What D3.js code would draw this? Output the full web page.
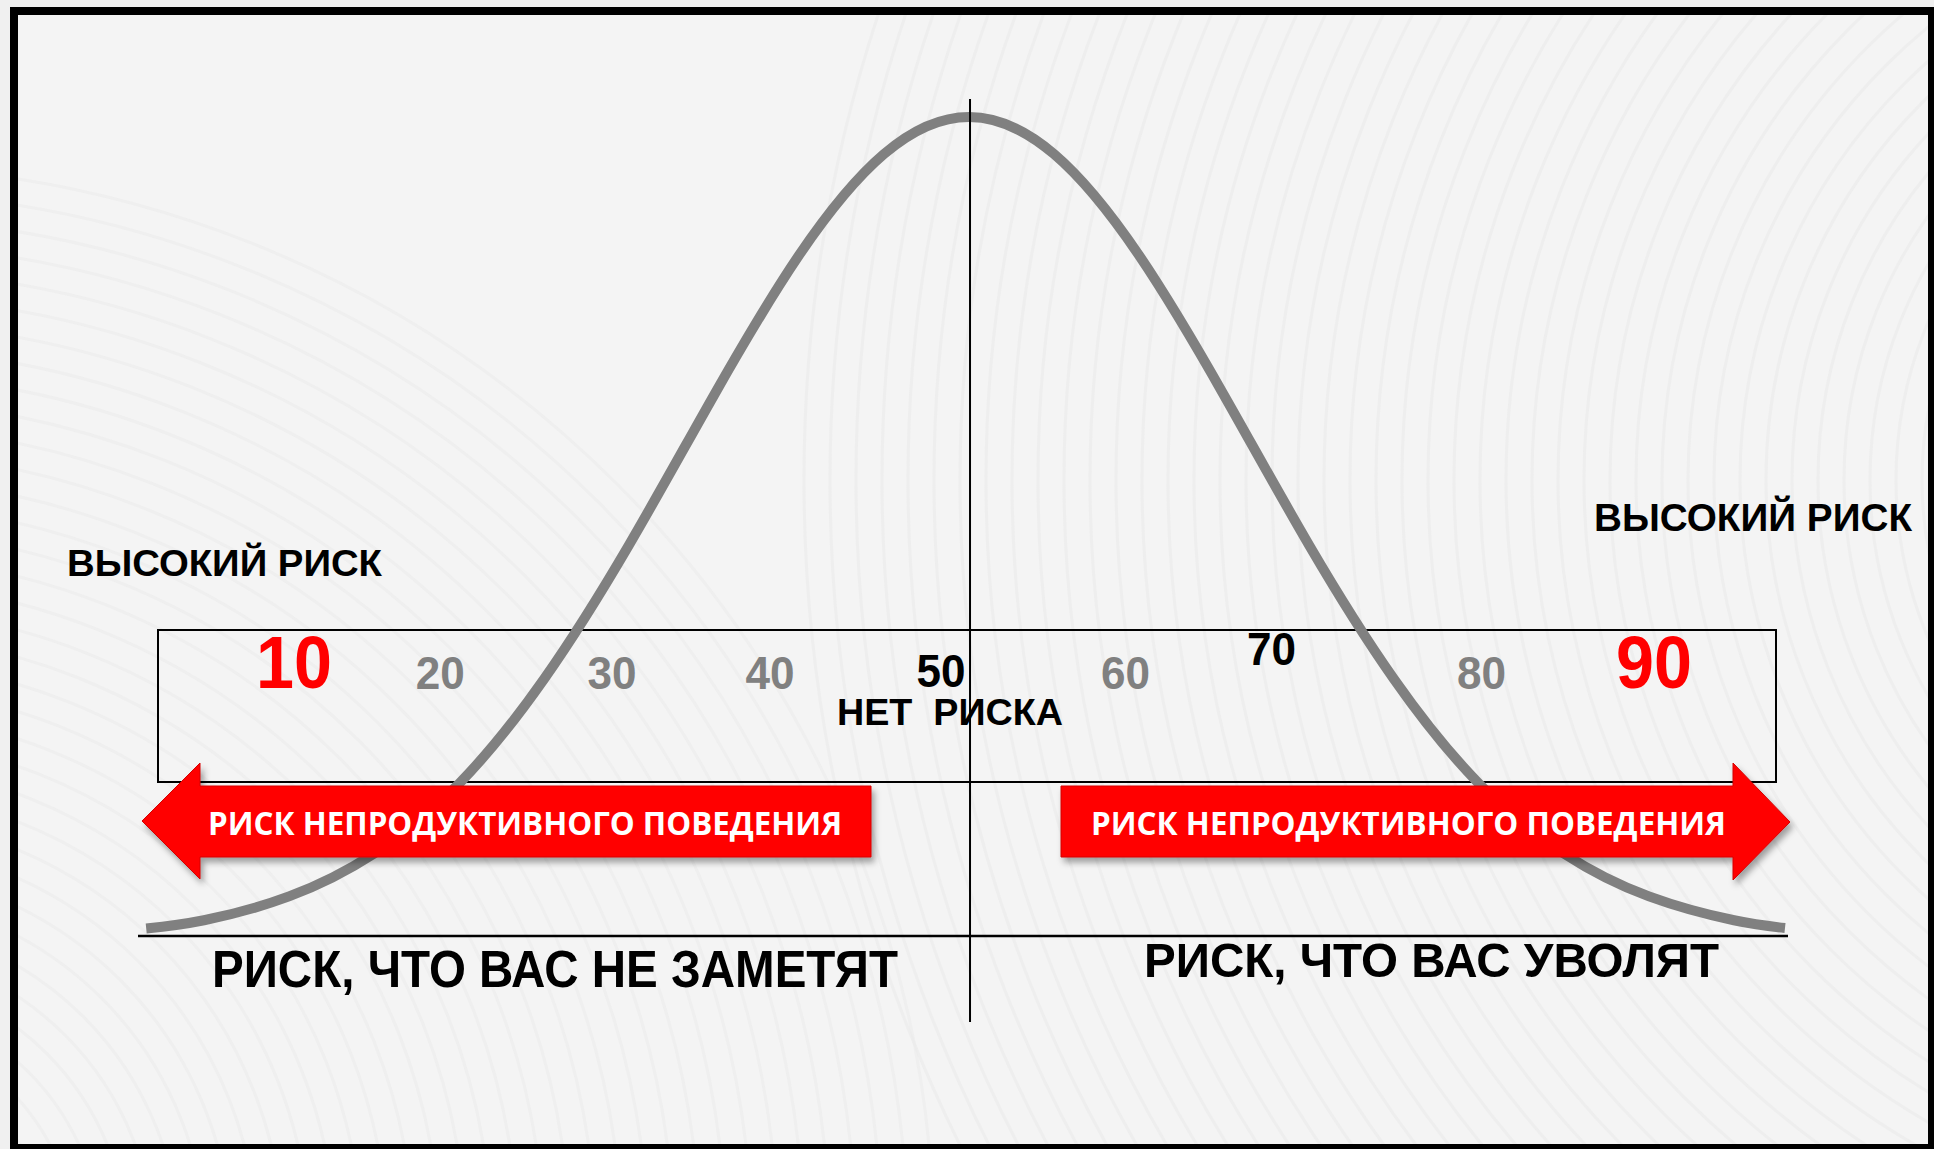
<!DOCTYPE html>
<html>
<head>
<meta charset="utf-8">
<script src="https://cdn.jsdelivr.net/npm/d3@7"></script>
<style>
  body { margin: 0; background: #f0f0f0; overflow: hidden; }
</style>
</head>
<body>
<div id="chart"></div>
<script>
// bell curve: score -> relative height
const curveScore  = [1.6, 5, 10, 15, 20, 25, 30, 35, 40, 45, 50, 55, 60, 65, 70, 75, 80, 85, 90, 95, 98];
const curveHeight = [0.014, 0.024, 0.053, 0.105, 0.19, 0.317, 0.48, 0.662, 0.832, 0.955, 1,
                     0.955, 0.832, 0.662, 0.48, 0.317, 0.19, 0.105, 0.053, 0.024, 0.0145];

// score labels inside the box (they are not evenly placed in the original)
const tickLabels = ['10', '20', '30', '40', '50', '60', '70', '80', '90'];
const tickScore  = [10.3, 18.9, 29.0, 38.3, 48.35, 59.2, 67.8, 80.15, 90.3];
const tickKind   = ['high', 'mid', 'mid', 'mid', 'dark', 'mid', 'dark', 'mid', 'high'];

const riskTitle = 'ВЫСОКИЙ РИСК';
const noRisk = 'НЕТ  РИСКА';
const arrowText = 'РИСК НЕПРОДУКТИВНОГО ПОВЕДЕНИЯ';
const bottomLabels = ['РИСК, ЧТО ВАС НЕ ЗАМЕТЯТ', 'РИСК, ЧТО ВАС УВОЛЯТ'];

/**
 * SET UP
 */
let width = 1934;
let height = 1149;
const narrow = '"Liberation Sans Narrow", "Liberation Sans", Arial, sans-serif';
const wide = '"Liberation Sans", Arial, sans-serif';

var x = d3.scaleLinear().domain([0, 100]).range([119, 1819]);
var y = d3.scaleLinear().domain([0, 1]).range([940, 117]);

var svg = d3.select('#chart').append('svg')
  .attr('width', width)
  .attr('height', height);

var defs = svg.append('defs');
var shadow = defs.append('filter').attr('id', 'shadow')
  .attr('x', '-10%').attr('y', '-20%').attr('width', '130%').attr('height', '160%');
shadow.append('feDropShadow')
  .attr('dx', 3).attr('dy', 5).attr('stdDeviation', 3)
  .attr('flood-color', '#000').attr('flood-opacity', 0.35);
defs.append('clipPath').attr('id', 'inside')
  .append('rect').attr('x', 18).attr('y', 15).attr('width', 1910).attr('height', 1130);

// page background + faint wave texture
svg.append('rect').attr('width', width).attr('height', height).attr('fill', '#f0f0f0');
svg.append('rect').attr('x', 14).attr('y', 11).attr('width', 1918).attr('height', 1137).attr('fill', '#f4f4f4');

var texture = svg.append('g').attr('clip-path', 'url(#inside)')
  .attr('fill', 'none').attr('stroke', '#ebebeb').attr('stroke-width', 3);
texture.selectAll('.arcR')
  .data(d3.range(300, 1500, 26))
  .enter().append('circle')
  .attr('cx', 2300).attr('cy', 480)
  .attr('r', function (d) { return d; })
  .attr('opacity', 0.7);
texture.selectAll('.arcL')
  .data(d3.range(200, 1100, 26))
  .enter().append('circle')
  .attr('cx', -150).attr('cy', 1250)
  .attr('r', function (d) { return d; })
  .attr('opacity', 0.6);

// outer frame
svg.append('rect')
  .attr('x', 14).attr('y', 11).attr('width', 1918).attr('height', 1137)
  .attr('fill', 'none').attr('stroke', '#000').attr('stroke-width', 8);

// score box
svg.append('rect')
  .attr('x', 158).attr('y', 630).attr('width', 1618).attr('height', 152)
  .attr('fill', 'none').attr('stroke', '#000').attr('stroke-width', 2);

// bell curve
var points = curveScore.map(function (s, i) { return { s: s, h: curveHeight[i] }; });
var line = d3.line()
  .x(function (d) { return x(d.s); })
  .y(function (d) { return y(d.h); })
  .curve(d3.curveNatural);

svg.append('path')
  .datum(points)
  .attr('d', line)
  .attr('fill', 'none')
  .attr('stroke', '#808080')
  .attr('stroke-width', 10);

// text helper: width forced so narrow fonts match the slide
function addText(opts) {
  var t = svg.append('text')
    .attr('x', opts.x)
    .attr('y', opts.y)
    .attr('font-family', opts.family || narrow)
    .attr('font-weight', 'bold')
    .attr('font-size', opts.size)
    .attr('fill', opts.fill || '#000')
    .style('white-space', 'pre')
    .text(opts.text);
  if (opts.width) {
    t.attr('textLength', opts.width).attr('lengthAdjust', 'spacingAndGlyphs');
  }
  return t;
}

// score labels
var tickStyle = {
  high: { size: 74, fill: '#ff0000', w: 76, base: 688 },
  mid:  { size: 46, fill: '#808080', w: 49, base: 689 },
  dark: { size: 46, fill: '#000000', w: 49, base: 687 }
};
tickLabels.forEach(function (lab, i) {
  var st = tickStyle[tickKind[i]];
  var base = lab === '70' ? 665 : st.base; // "70" sits higher in the original
  addText({ x: x(tickScore[i]) - st.w / 2, y: base, text: lab, size: st.size, fill: st.fill, width: st.w });
});

addText({ x: 837, y: 725, text: noRisk, size: 37, family: wide, width: 226 });

// high risk headings
addText({ x: 67, y: 576, text: riskTitle, size: 37, family: wide, width: 315 });
addText({ x: 1594, y: 531, text: riskTitle, size: 38, family: wide, width: 318 });

// baseline + centre line
svg.append('line')
  .attr('x1', 138).attr('x2', 1788).attr('y1', 936).attr('y2', 936)
  .attr('stroke', '#000').attr('stroke-width', 2.5);
svg.append('line')
  .attr('x1', x(50.06)).attr('x2', x(50.06)).attr('y1', 99).attr('y2', 1022)
  .attr('stroke', '#000').attr('stroke-width', 2);

// red arrows
var arrows = [
  [[142, 821], [200, 763], [200, 786], [871, 786], [871, 857], [200, 857], [200, 879]],
  [[1061, 786], [1733, 786], [1733, 763], [1790, 822], [1733, 880], [1733, 857], [1061, 857]]
];
svg.selectAll('.arrow')
  .data(arrows)
  .enter().append('polygon')
  .classed('arrow', true)
  .attr('points', function (d) { return d.map(function (p) { return p.join(','); }).join(' '); })
  .attr('fill', '#ff0000')
  .attr('stroke', '#d40000')
  .attr('stroke-width', 1)
  .attr('filter', 'url(#shadow)');

addText({ x: 208, y: 835, text: arrowText, size: 32, fill: '#fff', family: '"Open Sans", sans-serif', width: 634 });
addText({ x: 1091, y: 835, text: arrowText, size: 32, fill: '#fff', family: '"Open Sans", sans-serif', width: 635 });

// bottom captions
addText({ x: 212, y: 987, text: bottomLabels[0], size: 52, width: 686 });
addText({ x: 1144, y: 977, text: bottomLabels[1], size: 49, width: 575 });
</script>
</body>
</html>
